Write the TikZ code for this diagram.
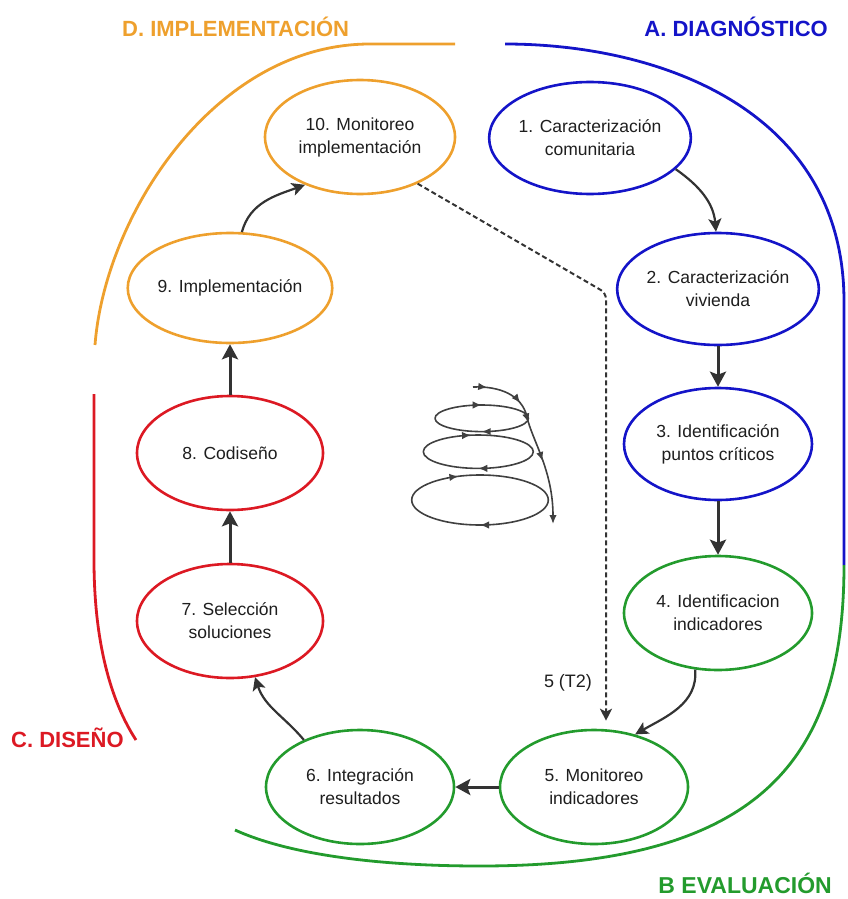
\documentclass[tikz,border=0pt]{standalone}
\usepackage{fontspec}
\setmainfont{Liberation Sans}
\usetikzlibrary{arrows.meta,shapes.geometric,decorations.markings}
\definecolor{cOr}{RGB}{238,160,45}
\definecolor{cBl}{RGB}{20,20,200}
\definecolor{cRd}{RGB}{220,25,35}
\definecolor{cGr}{RGB}{35,155,45}
\definecolor{cAr}{RGB}{51,51,51}
\definecolor{cTx}{RGB}{30,30,30}
\begin{document}
\begin{tikzpicture}[x=1pt,y=1pt,
  stage/.style={ellipse, draw, line width=2.6pt, minimum width=188pt, minimum height=112pt,
    inner sep=0pt, align=center, text=cTx, font=\fontsize{17.5}{23}\selectfont},
  phase/.style={font=\bfseries\fontsize{22}{26}\selectfont, inner sep=0pt},
  outer/.style={line width=2.8pt},
  flowS/.style={draw=cAr, line width=3pt, -{Stealth[length=15pt,width=16pt,inset=3pt]}},
  flowC/.style={draw=cAr, line width=2.2pt, -{Stealth[length=13pt,width=13pt,inset=3pt]}},
  spir/.style={draw=black!75, line width=1.6pt},
  sptip/.style={-{Latex[length=9pt,width=7.5pt]}},
]
\useasboundingbox (0,0) rectangle (847,-899);

% outer phase arcs
\draw[outer, cOr] (95,-345) .. controls (105,-215) and (215,-44) .. (370,-44) -- (455,-44);
\draw[outer, cBl] (505,-44) .. controls (660,-44) and (843,-110) .. (844,-300) -- (844,-565);
\draw[outer, cGr] (844,-565) .. controls (844,-760) and (760,-866) .. (480,-866)
  .. controls (380,-866) and (290,-855) .. (235,-830);
\draw[outer, cRd] (94,-394) -- (94,-560) .. controls (94,-640) and (110,-700) .. (136,-740);

% phase labels
\node[phase, text=cOr, anchor=base west] (tD) at (122,-37) {D. IMPLEMENTACIÓN};
\node[phase, text=cBl, anchor=base east] (tA) at (828,-37) {A. DIAGNÓSTICO};
\node[phase, text=cRd, anchor=base west] (tC) at (11,-747) {C. DISEÑO};
\node[phase, text=cGr, anchor=base east, font=\bfseries\fontsize{23}{27}\selectfont] (tB) at (832,-893) {B EVALUACIÓN};

% stages
\node[stage, draw=cBl, minimum width=186pt] (n1) at (590,-138) {1. Caracterización\\comunitaria};
\node[stage, draw=cBl] (n2) at (718,-289) {2. Caracterización\\vivienda};
\node[stage, draw=cBl] (n3) at (718,-444) {3. Identificación\\puntos críticos};
\node[stage, draw=cGr, minimum height=114pt] (n4) at (718,-613) {4. Identificacion\\indicadores};
\node[stage, draw=cGr, minimum height=114pt] (n5) at (594,-787) {5. Monitoreo\\indicadores};
\node[stage, draw=cGr, minimum height=114pt] (n6) at (360,-787) {6. Integración\\resultados};
\node[stage, draw=cRd, minimum width=186pt, minimum height=114pt] (n7) at (230,-621) {7. Selección\\soluciones};
\node[stage, draw=cRd, minimum width=186pt, minimum height=114pt] (n8) at (230,-453) {8. Codiseño};
\node[stage, draw=cOr, minimum width=194pt, minimum height=110pt] (n9) at (230,-288) {9. Implementación};
\node[stage, draw=cOr, minimum width=190pt, minimum height=114pt] (n10) at (360,-137) {10. Monitoreo\\implementación};

% flow arrows
\draw[flowC] (n1.-20) to[out=-35,in=95] (n2.92);
\draw[flowS] (n2.south) -- (n3.north);
\draw[flowS] (n3.south) -- (n4.north);
\draw[flowC] (n4.248) to[out=-85,in=30] (n5.52);
\draw[flowS] (n5.west) -- (n6.east);
\draw[flowC] (n6.140) to[out=130,in=-72] (n7.-66);
\draw[flowS] (n7.north) -- (n8.south);
\draw[flowS] (n8.north) -- (n9.south);
\draw[flowC] (n9.78) to[out=75,in=200] (n10.221);

% dashed link
\coordinate (dbend) at (606,-293);
\draw[cAr, line width=2pt, dash pattern=on 5pt off 3pt, rounded corners=6pt,
  -{Stealth[length=12pt,width=12pt,inset=3pt]}, shorten >=8pt]
  (n10.-39) -- (dbend) -- (dbend |- n5.north);
\node[font=\fontsize{18}{22}\selectfont, text=cTx] (t2) at (568,-683) {5 (T2)};

% spiral
\draw[spir, decoration={markings,
  mark=at position 0.25 with {\arrow{Latex[length=9pt,width=7.5pt]}},
  mark=at position 0.75 with {\arrow{Latex[length=9pt,width=7.5pt]}}}, postaction=decorate]
  (435,-418.3) arc[start angle=180, end angle=-180, x radius=46.7, y radius=13.3];
\draw[spir, decoration={markings,
  mark=at position 0.22 with {\arrow{Latex[length=9pt,width=7.5pt]}},
  mark=at position 0.75 with {\arrow{Latex[length=9pt,width=7.5pt]}}}, postaction=decorate]
  (423.3,-451.7) arc[start angle=180, end angle=-180, x radius=55, y radius=16.7];
\draw[spir, decoration={markings,
  mark=at position 0.18 with {\arrow{Latex[length=9pt,width=7.5pt]}},
  mark=at position 0.75 with {\arrow{Latex[length=9pt,width=7.5pt]}}}, postaction=decorate]
  (411.7,-500) arc[start angle=180, end angle=-180, x radius=68.3, y radius=25];
\draw[spir, sptip, decoration={markings,
  mark=at position 0.08 with {\arrow{Latex[length=9pt,width=7.5pt]}},
  mark=at position 0.29 with {\arrow{Latex[length=9pt,width=7.5pt]}},
  mark=at position 0.41 with {\arrow{Latex[length=9pt,width=7.5pt]}},
  mark=at position 0.64 with {\arrow{Latex[length=9pt,width=7.5pt]}}}, postaction=decorate]
  (473,-387) .. controls (500,-386) and (522,-395) .. (527,-417)
  .. controls (532,-440) and (553,-470) .. (553,-524);
\end{tikzpicture}
\end{document}
